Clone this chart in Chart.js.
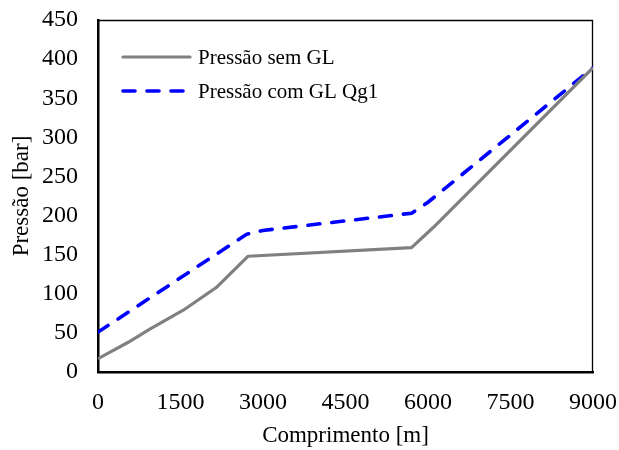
<!DOCTYPE html>
<html>
<head>
<meta charset="utf-8">
<script src="https://cdn.jsdelivr.net/npm/chart.js@4/dist/chart.umd.min.js"></script>
<style>
  html, body { margin: 0; padding: 0; background: #fff; }
  #wrap { width: 619px; height: 450px; }
</style>
</head>
<body>
<div id="wrap"><canvas id="pressureChart" width="619" height="450"></canvas></div>
<script>
// comprimento [m] e pressão [bar]
const semGlX = [0, 550, 950, 1550, 2150, 2730, 5700, 6100, 9000];
const semGlY = [17, 38, 55, 79, 108, 148, 159, 185, 389];
const comGlX = [0, 2700, 3000, 5700, 6000, 9000];
const comGlY = [51, 176, 181, 203, 217, 389];
const seriesLabels = ["Pressão sem GL", "Pressão com GL Qg1"];
const xTicks = [0, 1500, 3000, 4500, 6000, 7500, 9000];
const yTicks = [0, 50, 100, 150, 200, 250, 300, 350, 400, 450];

const serif = "'Liberation Serif', 'Times New Roman', serif";

const toPoints = (xs, ys) => xs.map((x, i) => ({ x: x, y: ys[i] }));

// legenda dentro da área do gráfico (canto superior esquerdo)
const insideLegend = {
  id: "insideLegend",
  afterDatasetsDraw(chart) {
    const ctx = chart.ctx;
    const rows = [57, 91];
    ctx.save();
    chart.data.datasets.forEach((ds, i) => {
      const y = rows[i];
      ctx.beginPath();
      ctx.strokeStyle = ds.borderColor;
      ctx.lineWidth = ds.borderWidth;
      ctx.lineCap = "round";
      ctx.setLineDash(ds.borderDash || []);
      ctx.moveTo(123, y);
      ctx.lineTo(190, y);
      ctx.stroke();
      ctx.setLineDash([]);
      ctx.fillStyle = "#000";
      ctx.font = "21px " + serif;
      ctx.textBaseline = "middle";
      ctx.fillText(ds.label, 198, y + 1);
    });
    ctx.restore();
  }
};

// moldura fina em cima e à direita
const frame = {
  id: "frame",
  beforeDatasetsDraw(chart) {
    const a = chart.chartArea;
    const ctx = chart.ctx;
    ctx.save();
    ctx.strokeStyle = "#000";
    ctx.lineWidth = 1.3;
    ctx.beginPath();
    ctx.moveTo(a.left, a.top + 0.5);
    ctx.lineTo(a.right - 0.5, a.top + 0.5);
    ctx.lineTo(a.right - 0.5, a.bottom);
    ctx.stroke();
    ctx.restore();
  }
};

new Chart(document.getElementById("pressureChart"), {
  type: "line",
  data: {
    datasets: [
      {
        label: seriesLabels[0],
        data: toPoints(semGlX, semGlY),
        borderColor: "#808080",
        borderWidth: 3.2,
        borderJoinStyle: "round",
        pointRadius: 0,
        tension: 0,
        fill: false
      },
      {
        label: seriesLabels[1],
        data: toPoints(comGlX, comGlY),
        borderColor: "#0000ff",
        borderWidth: 3.6,
        borderDash: [12, 12],
        borderCapStyle: "round",
        pointRadius: 0,
        tension: 0,
        fill: false
      }
    ]
  },
  plugins: [frame, insideLegend],
  options: {
    responsive: false,
    animation: false,
    devicePixelRatio: 1,
    layout: { padding: { left: 0, right: 26, top: 20, bottom: 0 } },
    plugins: {
      legend: { display: false },
      tooltip: { enabled: false }
    },
    scales: {
      x: {
        type: "linear",
        min: 0,
        max: 9000,
        afterBuildTicks: axis => { axis.ticks = xTicks.map(v => ({ value: v })); },
        afterFit: axis => {
          axis.height = 78;
          axis.paddingLeft = 0;
          axis.paddingRight = 0;
        },
        grid: { display: false, drawTicks: false },
        border: { display: true, color: "#000", width: 2.5 },
        ticks: {
          color: "#000",
          font: { family: serif, size: 24 },
          padding: 16,
          maxRotation: 0,
          callback: v => v
        },
        title: {
          display: true,
          text: "Comprimento [m]",
          color: "#000",
          font: { family: serif, size: 23 },
          padding: { top: 0, bottom: 0 }
        }
      },
      y: {
        min: 0,
        max: 450,
        afterBuildTicks: axis => { axis.ticks = yTicks.map(v => ({ value: v })); },
        afterFit: axis => {
          axis.width = 98;
          axis.paddingTop = 0;
          axis.paddingBottom = 0;
        },
        grid: { display: false, drawTicks: false },
        border: { display: true, color: "#000", width: 2.5 },
        ticks: {
          color: "#000",
          font: { family: serif, size: 24 },
          padding: 20,
          callback: v => v
        },
        title: {
          display: true,
          text: "Pressão [bar]",
          color: "#000",
          font: { family: serif, size: 23 },
          padding: { top: 8, bottom: 0 }
        }
      }
    }
  }
});
</script>
</body>
</html>
